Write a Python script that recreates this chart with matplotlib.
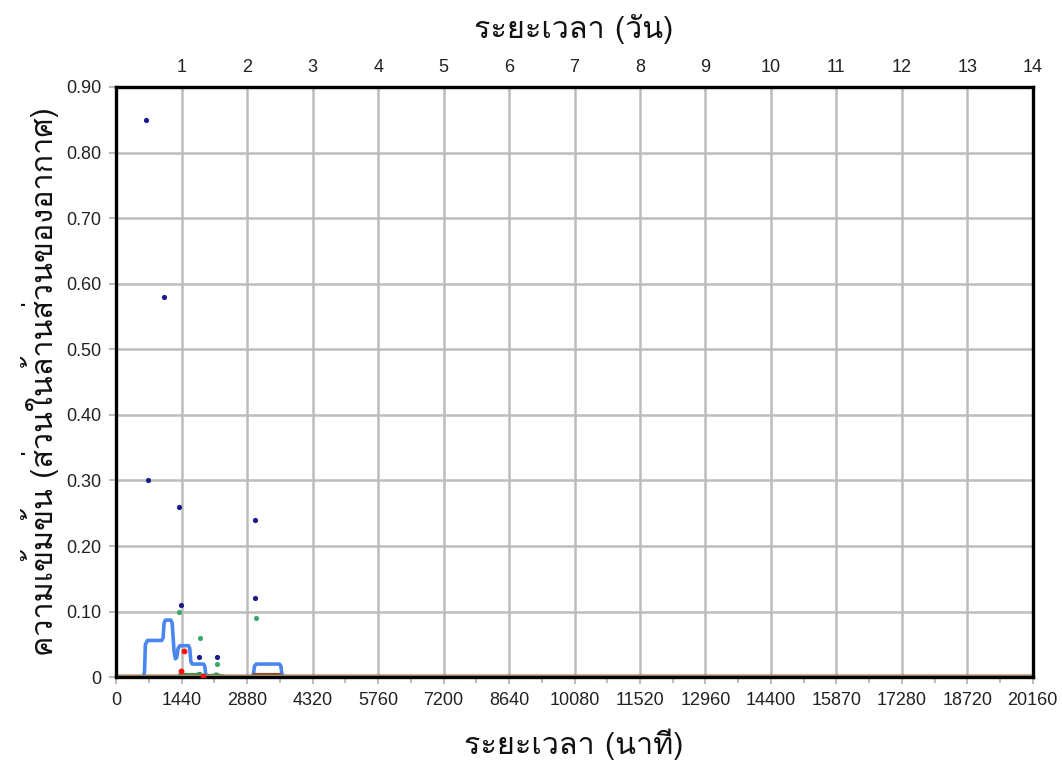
import matplotlib
matplotlib.use("Agg")
import matplotlib.pyplot as plt
from matplotlib import font_manager
from matplotlib.ft2font import FT2Font
import numpy as np

# ---------------- data ----------------
x_ticks = [0, 1440, 2880, 4320, 5760, 7200, 8640, 10080, 11520, 12960,
           14400, 15870, 17280, 18720, 20160]
x_tick_positions = [0, 1440, 2880, 4320, 5760, 7200, 8640, 10080, 11520, 12960,
                    14400, 15840, 17280, 18720, 20160]
day_ticks = [1, 2, 3, 4, 5, 6, 7, 8, 9, 10, 11, 12, 13, 14]
y_ticks = [0, 0.1, 0.2, 0.3, 0.4, 0.5, 0.6, 0.7, 0.8, 0.9]
y_tick_labels = ["0", "0.10", "0.20", "0.30", "0.40", "0.50", "0.60", "0.70", "0.80", "0.90"]

# observed points
navy_x = [664, 1052, 708, 1382, 1419, 3054, 3048, 1809, 2205]
navy_y = [0.85, 0.58, 0.30, 0.26, 0.11, 0.24, 0.12, 0.03, 0.03]
green_pt_x = [1382, 3063, 1837, 2205]
green_pt_y = [0.10, 0.09, 0.06, 0.02]
red_pt_x = [1485, 1413, 1897]
red_pt_y = [0.04, 0.01, 0.002]

# modelled blue curve
blue_x = [0, 600, 622, 640, 690, 1000, 1030, 1050, 1080, 1200, 1230, 1270, 1300,
          1330, 1360, 1400, 1590, 1615, 1640, 1670, 1920, 1945, 1965, 1990,
          3000, 3020, 3040, 3080, 3590, 3620, 3640, 3665, 20160]
blue_y = [0, 0, 0.01, 0.05, 0.056, 0.056, 0.06, 0.082, 0.087, 0.087, 0.082, 0.04, 0.028,
          0.03, 0.044, 0.048, 0.048, 0.044, 0.024, 0.02, 0.02, 0.017, 0.006, 0,
          0, 0.006, 0.017, 0.02, 0.02, 0.017, 0.006, 0, 0]

# modelled green curve
green_x = [0, 1370, 1400, 1440, 1780, 1810, 1850, 1890, 2150, 2180, 2220, 2260, 2400, 20160]
green_y = [0.002, 0.002, 0.004, 0.004, 0.004, 0.006, 0.006, 0.003, 0.003, 0.005, 0.005,
           0.003, 0.002, 0.002]

# modelled brown curve segments
brown1_x = [1420, 1800]
brown1_y = [0.003, 0.003]
brown2_x = [3060, 3590]
brown2_y = [0.003, 0.003]

# modelled red curve
red_x = [0, 20160]
red_y = [0.004, 0.004]

# ---------------- fonts ----------------
def find_thai_font():
    prefs = ["Loma", "Tlwg Typo", "Garuda", "Sawasdee", "Umpush", "Waree",
             "Noto Sans Thai Looped", "Noto Sans Thai", "Noto Sans Thai UI"]
    found = {}
    for f in font_manager.fontManager.ttflist:
        try:
            cm = FT2Font(f.fname).get_charmap()
        except Exception:
            continue
        if 0x0E23 in cm and 0x0E32 in cm:
            found.setdefault(f.name, f.fname)
    for p in prefs:
        if p in found:
            return p
    return next(iter(found), None)

thai = find_thai_font()
fam = ["Liberation Sans", "DejaVu Sans"]
thai_fam = ([thai] if thai else []) + fam
plt.rcParams["font.family"] = fam

# ---------------- figure ----------------
fig = plt.figure(figsize=(10.62, 7.63), dpi=100)
ax = fig.add_axes([0.1095, 0.1125, 0.863, 0.7735])

ax.set_xlim(0, 20160)
ax.set_ylim(0, 0.9)

ax.grid(True, which="major", color="#bdbdbd", linewidth=1.8, zorder=0)
ax.set_axisbelow(True)

ax.plot(blue_x, blue_y, color="#4a86f0", linewidth=2.6, zorder=3,
        solid_joinstyle="round", solid_capstyle="round")
ax.plot(brown1_x, brown1_y, color="#8b4a1c", linewidth=3.0, zorder=4)
ax.plot(brown2_x, brown2_y, color="#8b4a1c", linewidth=3.0, zorder=4)
ax.plot(green_x, green_y, color="#2e9e52", linewidth=2.0, zorder=4, clip_on=False)
ax.plot(red_x, red_y, color="#f08080", linewidth=0.8, zorder=4, clip_on=False)

ax.scatter(navy_x, navy_y, s=14, marker="o", color="#1a1a8c", zorder=6, linewidths=0)
ax.scatter(green_pt_x, green_pt_y, s=14, marker="o", color="#3aaa6a", zorder=6, linewidths=0)
ax.scatter(red_pt_x, red_pt_y, s=18, marker="o", color="#ff1010", zorder=6, linewidths=0)

for s in ax.spines.values():
    s.set_linewidth(2.4)
    s.set_color("black")
    s.set_zorder(5)

ax.set_xticks(x_tick_positions)
ax.set_xticklabels([str(v) for v in x_ticks])
ax.set_xticks([720 + 1440 * i for i in range(14)], minor=True)
ax.set_yticks(y_ticks)
ax.set_yticklabels(y_tick_labels)
ax.tick_params(axis="both", which="major", labelsize=13, color="#b0b0b0",
               length=5, width=1.2, labelcolor="#222222", pad=6)
ax.tick_params(axis="x", which="minor", color="#b0b0b0", length=4, width=1.2)

sec = ax.secondary_xaxis("top", functions=(lambda v: v / 1440.0, lambda d: d * 1440.0))
sec.set_xticks(day_ticks)
sec.tick_params(length=0, labelsize=13, labelcolor="#222222", pad=8)
sec.spines["top"].set_visible(False)

fig.text(0.54, 0.962, "ระยะเวลา (วัน)", ha="center", va="center",
         fontsize=22, family=thai_fam, color="#111111")
fig.text(0.54, 0.025, "ระยะเวลา (นาที)", ha="center", va="center",
         fontsize=22, family=thai_fam, color="#111111")
fig.text(0.038, 0.50, "ความเข้มข้น (ส่วนในล้านส่วนของอากาศ)", ha="center", va="center",
         rotation=90, fontsize=22, family=thai_fam, color="#111111")

fig.savefig("out.png", dpi=100)
